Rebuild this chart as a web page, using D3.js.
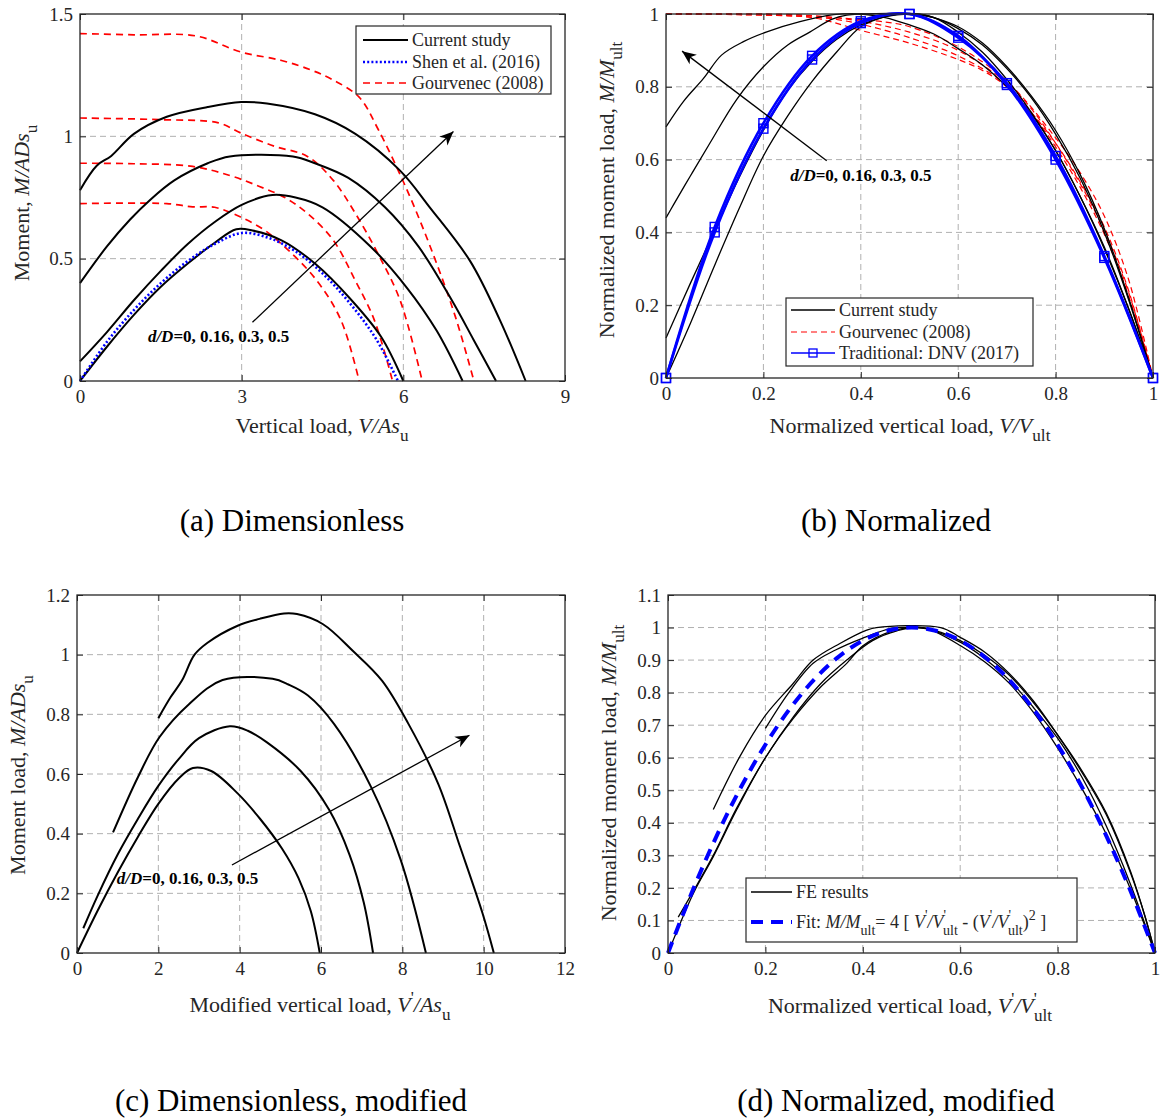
<!DOCTYPE html>
<html>
<head>
<meta charset="utf-8">
<script src="https://cdn.jsdelivr.net/npm/d3@7"></script>
<style>
  body { margin: 0; background: #fff; }
  svg { font-family: "Liberation Serif", "Times New Roman", serif; }
</style>
</head>
<body>
<svg id="fig" width="1162" height="1118"></svg>
<script>
// ---- (a) dimensionless: V/As_u vs M/ADs_u ----
var aTicksX = [0, 3, 6, 9], aLabelsX = ['0', '3', '6', '9'];
var aTicksY = [0, 0.5, 1, 1.5], aLabelsY = ['0', '0.5', '1', '1.5'];
var aCur0 = [[0,0],[0.5,0.14],[1,0.27],[1.5,0.385],[2,0.48],[2.5,0.565],[2.9,0.62],[3.2,0.615],[3.74,0.575],[4.36,0.48],[5.04,0.33],[5.59,0.18],[6.0,0]];
var aCur16 = [[0,0.08],[0.5,0.2],[1,0.33],[1.5,0.45],[2,0.56],[2.5,0.65],[3,0.72],[3.57,0.76],[4,0.75],[4.5,0.71],[5.39,0.55],[6.07,0.38],[6.62,0.205],[7.1,0]];
var aCur30 = [[0,0.4],[0.5,0.55],[0.93,0.66],[1.3,0.74],[1.75,0.82],[2.37,0.89],[2.78,0.918],[3.95,0.918],[4.36,0.89],[4.98,0.83],[5.66,0.71],[6.28,0.55],[6.9,0.33],[7.3,0.17],[7.72,0]];
var aCur50 = [[0,0.78],[0.31,0.88],[0.58,0.92],[1.0,1.01],[1.61,1.08],[2.37,1.12],[2.99,1.14],[3.47,1.134],[4.36,1.09],[5.11,1.01],[5.94,0.86],[6.49,0.71],[7.24,0.49],[7.79,0.25],[8.27,0]];
var aShen = [[0,0],[0.5,0.16],[1,0.29],[1.5,0.4],[2,0.49],[2.5,0.56],[3,0.605],[3.5,0.585],[4,0.53],[4.5,0.44],[5,0.32],[5.5,0.17],[5.9,0]];
var aGour0 = [[0,1.42],[1,1.415],[2.16,1.41],[2.98,1.345],[3.74,1.31],[4.3,1.27],[4.7,1.23],[5.18,1.16],[5.53,1.03],[6.07,0.78],[6.55,0.52],[6.97,0.26],[7.31,0]];
var aGour1 = [[0,1.075],[1.5,1.068],[2.57,1.055],[2.98,1.014],[3.6,0.96],[4.22,0.918],[4.7,0.82],[5.11,0.685],[5.53,0.52],[5.94,0.33],[6.35,0]];
var aGour2 = [[0,0.89],[1,0.888],[2.09,0.877],[2.78,0.84],[3.33,0.795],[3.8,0.75],[4.22,0.685],[4.7,0.575],[5.11,0.41],[5.46,0.25],[5.8,0]];
var aGour3 = [[0,0.725],[1.61,0.725],[2.09,0.712],[2.5,0.71],[2.98,0.67],[3.4,0.62],[3.74,0.56],[4.36,0.42],[4.84,0.25],[5.18,0]];

// ---- (b) normalized: V/V_ult vs M/M_ult ----
var unitTicks = [0, 0.2, 0.4, 0.6, 0.8, 1], unitLabels = ['0', '0.2', '0.4', '0.6', '0.8', '1'];
var bCur0 = [[0,0],[0.05,0.15],[0.1,0.31],[0.15,0.465],[0.2,0.61],[0.25,0.72],[0.3,0.815],[0.35,0.895],[0.4,0.965],[0.45,0.993],[0.48,1.0],[0.52,1.0],[0.55,0.99],[0.6,0.965],[0.65,0.92],[0.7,0.855],[0.75,0.775],[0.8,0.68],[0.85,0.56],[0.9,0.41],[0.95,0.22],[1,0]];
var bCur16 = [[0,0.11],[0.05,0.26],[0.1,0.405],[0.15,0.55],[0.2,0.68],[0.25,0.79],[0.3,0.87],[0.35,0.93],[0.4,0.97],[0.45,0.993],[0.5,1.0],[0.55,0.99],[0.6,0.95],[0.65,0.895],[0.7,0.82],[0.75,0.73],[0.8,0.625],[0.85,0.5],[0.9,0.355],[0.95,0.19],[1,0]];
var bCur30 = [[0,0.44],[0.015,0.475],[0.05,0.555],[0.09,0.645],[0.145,0.765],[0.2,0.855],[0.25,0.915],[0.296,0.951],[0.34,0.985],[0.371,0.997],[0.4,1.0],[0.5,1.0],[0.55,0.99],[0.6,0.96],[0.65,0.915],[0.7,0.85],[0.75,0.77],[0.8,0.67],[0.85,0.55],[0.9,0.4],[0.95,0.215],[1,0]];
var bCur50 = [[0,0.69],[0.036,0.76],[0.077,0.823],[0.114,0.887],[0.159,0.924],[0.207,0.951],[0.275,0.979],[0.344,0.998],[0.4,1.0],[0.45,0.99],[0.5,0.97],[0.55,0.945],[0.6,0.905],[0.65,0.86],[0.7,0.8],[0.75,0.725],[0.8,0.625],[0.85,0.5],[0.9,0.36],[0.95,0.19],[1,0]];
var bGour0 = [[0,1],[0.15,0.998],[0.3,0.99],[0.4,0.955],[0.5,0.92],[0.6,0.875],[0.65,0.845],[0.7,0.8],[0.75,0.73],[0.8,0.645],[0.85,0.54],[0.9,0.415],[0.95,0.24],[1,0]];
var bGour1 = [[0,1],[0.2,0.997],[0.35,0.985],[0.45,0.955],[0.5,0.935],[0.6,0.885],[0.7,0.805],[0.75,0.73],[0.8,0.635],[0.85,0.525],[0.9,0.395],[0.95,0.225],[1,0]];
var bGour2 = [[0,1],[0.3,0.995],[0.4,0.98],[0.5,0.95],[0.6,0.9],[0.7,0.81],[0.75,0.74],[0.8,0.645],[0.85,0.535],[0.9,0.405],[0.95,0.235],[1,0]];
var bGour3 = [[0,1],[0.25,0.999],[0.35,0.99],[0.45,0.978],[0.5,0.965],[0.6,0.91],[0.7,0.815],[0.8,0.66],[0.85,0.565],[0.9,0.445],[0.95,0.27],[1,0]];
var dnvV = [0, 0.1, 0.2, 0.3, 0.4, 0.5, 0.6, 0.7, 0.8, 0.9, 1];
var dnvM1 = [0, 0.40, 0.685, 0.875, 0.975, 1, 0.94, 0.805, 0.60, 0.33, 0];
var dnvM2 = [0, 0.415, 0.70, 0.885, 0.98, 1, 0.935, 0.81, 0.61, 0.335, 0];

// ---- (c) dimensionless, modified: V'/As_u vs M/ADs_u ----
var cTicksX = [0, 2, 4, 6, 8, 10, 12], cLabelsX = ['0', '2', '4', '6', '8', '10', '12'];
var cTicksY = [0, 0.2, 0.4, 0.6, 0.8, 1, 1.2], cLabelsY = ['0', '0.2', '0.4', '0.6', '0.8', '1', '1.2'];
var cCur0 = [[0,0],[0.5,0.14],[1,0.27],[1.5,0.39],[2,0.5],[2.5,0.585],[2.85,0.62],[3.3,0.61],[3.95,0.535],[4.5,0.45],[5.04,0.35],[5.45,0.25],[5.75,0.14],[5.97,0]];
var cCur16 = [[0.155,0.083],[0.5,0.19],[1,0.33],[1.5,0.45],[2,0.56],[2.5,0.65],[3,0.72],[3.76,0.76],[4.2,0.745],[4.68,0.705],[5.5,0.61],[6.2,0.48],[6.7,0.33],[7.05,0.17],[7.28,0]];
var cCur30 = [[0.886,0.404],[1.5,0.59],[2.03,0.724],[2.76,0.835],[3.58,0.915],[4.81,0.919],[5.2,0.9],[5.68,0.863],[6.32,0.768],[7.23,0.557],[7.96,0.312],[8.58,0]];
var cCur50 = [[2.0,0.787],[2.3,0.857],[2.58,0.913],[2.89,1.0],[3.21,1.04],[3.95,1.097],[4.49,1.12],[5.09,1.138],[5.41,1.136],[6.05,1.102],[6.78,1.013],[7.5,0.913],[8.15,0.768],[8.88,0.568],[9.42,0.356],[9.97,0.134],[10.25,0]];

// ---- (d) normalized, modified: V'/V'_ult vs M/M_ult ----
var dTicksY = [0, 0.1, 0.2, 0.3, 0.4, 0.5, 0.6, 0.7, 0.8, 0.9, 1, 1.1];
var dLabelsY = ['0', '0.1', '0.2', '0.3', '0.4', '0.5', '0.6', '0.7', '0.8', '0.9', '1', '1.1'];
var dFE0 = [[0,0],[0.052,0.183],[0.093,0.296],[0.141,0.44],[0.2,0.6],[0.257,0.72],[0.312,0.815],[0.367,0.89],[0.401,0.945],[0.461,0.99],[0.5,1],[0.55,0.99],[0.6,0.96],[0.65,0.915],[0.7,0.855],[0.75,0.77],[0.8,0.67],[0.85,0.56],[0.9,0.43],[0.95,0.25],[0.98,0.11],[1,0]];
var dFE16 = [[0.021,0.11],[0.052,0.19],[0.093,0.3],[0.141,0.445],[0.2,0.6],[0.257,0.725],[0.312,0.825],[0.367,0.9],[0.42,0.96],[0.47,0.99],[0.52,1.0],[0.6,0.955],[0.65,0.905],[0.7,0.84],[0.75,0.755],[0.8,0.66],[0.85,0.54],[0.9,0.39],[0.95,0.21],[1,0]];
var dFE30 = [[0.093,0.441],[0.148,0.605],[0.2,0.73],[0.257,0.828],[0.298,0.9],[0.353,0.951],[0.408,0.992],[0.428,1.0],[0.56,1.0],[0.6,0.97],[0.65,0.925],[0.7,0.86],[0.75,0.775],[0.8,0.67],[0.85,0.555],[0.9,0.425],[0.95,0.245],[0.98,0.11],[1,0]];
var dFE50 = [[0.2,0.69],[0.247,0.798],[0.298,0.89],[0.344,0.931],[0.399,0.967],[0.461,0.998],[0.5,1.0],[0.53,0.998],[0.6,0.945],[0.65,0.895],[0.7,0.83],[0.75,0.74],[0.8,0.63],[0.85,0.505],[0.9,0.365],[0.95,0.195],[1,0]];
var fitV = [0, 0.05, 0.1, 0.15, 0.2, 0.25, 0.3, 0.35, 0.4, 0.45, 0.5, 0.55, 0.6, 0.65, 0.7, 0.75, 0.8, 0.85, 0.9, 0.95, 1];
var fitM = [0, 0.19, 0.36, 0.51, 0.64, 0.75, 0.84, 0.91, 0.96, 0.99, 1, 0.99, 0.96, 0.91, 0.84, 0.75, 0.64, 0.51, 0.36, 0.19, 0];

var ddLabel = [{t: 'd/D', i: 1, b: 1}, {t: '=0, 0.16, 0.3, 0.5', b: 1}];

var INK = '#262626';
var svg = d3.select('#fig');
svg.append('rect').attr('width', 1162).attr('height', 1118).attr('fill', '#fff');

svg.append('defs').append('marker')
    .attr('id', 'head')
    .attr('viewBox', '-15 -8 17 16')
    .attr('markerWidth', 17).attr('markerHeight', 16)
    .attr('markerUnits', 'userSpaceOnUse')
    .attr('refX', 0).attr('refY', 0)
    .attr('orient', 'auto')
    .append('path')
    .attr('d', 'M0,0 L-14,-6 L-10,0 L-14,6 Z')
    .attr('fill', '#000');

// text with italic / sub / superscript pieces
function rich(parent, x, y, parts, size, anchor, rotate) {
    var t = parent.append('text')
        .attr('x', x).attr('y', y)
        .attr('font-size', size)
        .attr('text-anchor', anchor || 'start')
        .attr('fill', INK);
    if (rotate) t.attr('transform', 'rotate(-90,' + x + ',' + y + ')');
    var cur = 0;
    parts.forEach(function(p) {
        var s = t.append('tspan').text(p.t);
        var shift = 0;
        if (p.sub) shift = size * 0.38;
        if (p.sup) shift = -size * 0.42;
        s.attr('dy', shift - cur);
        cur = shift;
        if (p.sub || p.sup) s.attr('font-size', size * 0.78);
        if (p.i) s.attr('font-style', 'italic');
        if (p.b) s.attr('font-weight', 'bold');
        if (p.dx) s.attr('dx', p.dx);
    });
    return t;
}

function panel(o) {
    var g = svg.append('g').attr('transform', 'translate(' + o.left + ',' + o.top + ')');
    var x = d3.scaleLinear().domain(o.xDomain).range([0, o.width]);
    var y = d3.scaleLinear().domain(o.yDomain).range([o.height, 0]);

    var grid = g.append('g').attr('stroke', '#b0b0b0').attr('stroke-dasharray', '6,4').attr('stroke-width', 1);
    o.xTicks.slice(1, -1).forEach(function(t) {
        grid.append('line').attr('x1', x(t)).attr('x2', x(t)).attr('y1', 0).attr('y2', o.height);
    });
    o.yTicks.slice(1, -1).forEach(function(t) {
        grid.append('line').attr('x1', 0).attr('x2', o.width).attr('y1', y(t)).attr('y2', y(t));
    });

    var curves = g.append('g');

    var axes = g.append('g');
    function styleAxis(a) {
        a.attr('font-family', null).attr('font-size', 19);
        a.select('.domain').remove();
        a.selectAll('.tick line').attr('stroke', INK);
        a.selectAll('.tick text').attr('fill', INK);
    }
    axes.append('g').attr('transform', 'translate(0,' + o.height + ')')
        .call(d3.axisBottom(x).tickValues(o.xTicks).tickFormat(function(d, i) { return o.xLabels[i]; }).tickSize(-6).tickPadding(9))
        .call(styleAxis);
    axes.append('g')
        .call(d3.axisTop(x).tickValues(o.xTicks).tickFormat('').tickSize(-6))
        .call(styleAxis);
    axes.append('g')
        .call(d3.axisLeft(y).tickValues(o.yTicks).tickFormat(function(d, i) { return o.yLabels[i]; }).tickSize(-6).tickPadding(7))
        .call(styleAxis);
    axes.append('g').attr('transform', 'translate(' + o.width + ',0)')
        .call(d3.axisRight(y).tickValues(o.yTicks).tickFormat('').tickSize(-6))
        .call(styleAxis);
    axes.append('rect').attr('width', o.width).attr('height', o.height)
        .attr('fill', 'none').attr('stroke', INK).attr('stroke-width', 1.3);

    var line = d3.line()
        .x(function(d) { return x(d[0]); })
        .y(function(d) { return y(d[1]); })
        .curve(d3.curveCatmullRom.alpha(0.5));

    return {g: g, x: x, y: y, curves: curves, line: line};
}

function drawCurve(p, data, color, width, dash) {
    var path = p.curves.append('path')
        .datum(data)
        .attr('d', p.line)
        .attr('fill', 'none')
        .attr('stroke', color)
        .attr('stroke-width', width)
        .attr('stroke-linejoin', 'round');
    if (dash) path.attr('stroke-dasharray', dash);
    return path;
}

function arrow(p, from, to) {
    p.g.append('line')
        .attr('x1', p.x(from[0])).attr('y1', p.y(from[1]))
        .attr('x2', p.x(to[0])).attr('y2', p.y(to[1]))
        .attr('stroke', '#000').attr('stroke-width', 1.3)
        .attr('marker-end', 'url(#head)');
}

function legend(p, x, y, w, h, rows) {
    var lg = p.g.append('g').attr('transform', 'translate(' + x + ',' + y + ')');
    lg.append('rect').attr('width', w).attr('height', h)
        .attr('fill', '#fff').attr('stroke', INK).attr('stroke-width', 1.2);
    rows.forEach(function(r) {
        var ln = lg.append('line').attr('x1', r.x1).attr('x2', r.x2).attr('y1', r.y).attr('y2', r.y)
            .attr('stroke', r.color).attr('stroke-width', r.width);
        if (r.dash) ln.attr('stroke-dasharray', r.dash);
        if (r.square) {
            lg.append('rect').attr('x', (r.x1 + r.x2) / 2 - 4).attr('y', r.y - 4)
                .attr('width', 8).attr('height', 8)
                .attr('fill', 'none').attr('stroke', r.color).attr('stroke-width', 1.3);
        }
        rich(lg, r.tx, r.y + 6, r.parts, 18);
    });
}

function caption(cx, cy, text) {
    svg.append('text').attr('x', cx).attr('y', cy)
        .attr('text-anchor', 'middle').attr('font-size', 31).attr('fill', '#000')
        .text(text);
}

// ===== (a) =====
var pa = panel({left: 80, top: 14, width: 485, height: 367, xDomain: [0, 9], yDomain: [0, 1.5],
    xTicks: aTicksX, xLabels: aLabelsX, yTicks: aTicksY, yLabels: aLabelsY});
[aGour0, aGour1, aGour2, aGour3].forEach(function(d) { drawCurve(pa, d, '#ff0000', 1.7, '7,5'); });
[aCur0, aCur16, aCur30, aCur50].forEach(function(d) { drawCurve(pa, d, '#000', 2); });
drawCurve(pa, aShen, '#0000ff', 2.6, '2,2.2');
arrow(pa, [3.2, 0.24], [6.93, 1.02]);
rich(pa.g, pa.x(1.26), pa.y(0.16), ddLabel, 17).attr('fill', '#000');
legend(pa, 276, 12, 195, 68, [
    {x1: 7, x2: 52, y: 14, color: '#000', width: 2, tx: 56, parts: [{t: 'Current study'}]},
    {x1: 7, x2: 52, y: 36, color: '#0000ff', width: 2.6, dash: '2,2.2', tx: 56, parts: [{t: 'Shen et al. (2016)'}]},
    {x1: 7, x2: 52, y: 57, color: '#ff0000', width: 1.7, dash: '7,5', tx: 56, parts: [{t: 'Gourvenec (2008)'}]}
]);
rich(svg, 322, 433, [{t: 'Vertical load,  '}, {t: 'V/As', i: 1}, {t: 'u', sub: 1}], 22, 'middle');
rich(svg, 29, 203, [{t: 'Moment, '}, {t: 'M/ADs', i: 1}, {t: 'u', sub: 1}], 22, 'middle', true);
caption(292, 531, '(a) Dimensionless');

// ===== (b) =====
var pb = panel({left: 666, top: 14, width: 487, height: 364, xDomain: [0, 1], yDomain: [0, 1],
    xTicks: unitTicks, xLabels: unitLabels, yTicks: unitTicks, yLabels: unitLabels});
[bGour0, bGour1, bGour2, bGour3].forEach(function(d) { drawCurve(pb, d, '#ff0000', 1.2, '6,4'); });
[bCur0, bCur16, bCur30, bCur50].forEach(function(d) { drawCurve(pb, d, '#000', 1.3); });
[dnvM1, dnvM2].forEach(function(m) {
    var pts = dnvV.map(function(v, i) { return [v, m[i]]; });
    drawCurve(pb, pts, '#0000ff', 2.6);
    pb.curves.selectAll(null).data(pts).enter().append('rect')
        .attr('x', function(d) { return pb.x(d[0]) - 4.5; })
        .attr('y', function(d) { return pb.y(d[1]) - 4.5; })
        .attr('width', 9).attr('height', 9)
        .attr('fill', 'none').attr('stroke', '#0000ff').attr('stroke-width', 1.4);
});
arrow(pb, [0.33, 0.597], [0.033, 0.898]);
rich(pb.g, pb.x(0.255), pb.y(0.54), ddLabel, 17).attr('fill', '#000');
legend(pb, 120, 284, 247, 68, [
    {x1: 5, x2: 49, y: 12, color: '#000', width: 1.3, tx: 53, parts: [{t: 'Current study'}]},
    {x1: 5, x2: 49, y: 34, color: '#ff0000', width: 1.2, dash: '6,4', tx: 53, parts: [{t: 'Gourvenec (2008)'}]},
    {x1: 5, x2: 49, y: 55, color: '#0000ff', width: 1.6, square: true, tx: 53, parts: [{t: 'Traditional: DNV (2017)'}]}
]);
rich(svg, 910, 433, [{t: 'Normalized vertical load, '}, {t: 'V/V', i: 1}, {t: 'ult', sub: 1}], 22, 'middle');
rich(svg, 614, 190, [{t: 'Normalized moment load, '}, {t: 'M/M', i: 1}, {t: 'ult', sub: 1}], 22, 'middle', true);
caption(896, 531, '(b) Normalized');

// ===== (c) =====
var pc = panel({left: 77, top: 595, width: 488, height: 358, xDomain: [0, 12], yDomain: [0, 1.2],
    xTicks: cTicksX, xLabels: cLabelsX, yTicks: cTicksY, yLabels: cLabelsY});
[cCur0, cCur16, cCur30, cCur50].forEach(function(d) { drawCurve(pc, d, '#000', 2); });
arrow(pc, [3.81, 0.295], [9.65, 0.73]);
rich(pc.g, pc.x(0.98), pc.y(0.23), ddLabel, 17).attr('fill', '#000');
rich(svg, 320, 1012, [{t: 'Modified vertical load, '}, {t: 'V', i: 1}, {t: "'", sup: 1}, {t: '/As', i: 1}, {t: 'u', sub: 1}], 22, 'middle');
rich(svg, 25, 775, [{t: 'Moment load, '}, {t: 'M/ADs', i: 1}, {t: 'u', sub: 1}], 22, 'middle', true);
caption(291, 1111, '(c) Dimensionless, modified');

// ===== (d) =====
var pd = panel({left: 668, top: 595, width: 487, height: 358, xDomain: [0, 1], yDomain: [0, 1.1],
    xTicks: unitTicks, xLabels: unitLabels, yTicks: dTicksY, yLabels: dLabelsY});
[dFE0, dFE16, dFE30, dFE50].forEach(function(d) { drawCurve(pd, d, '#000', 1.3); });
drawCurve(pd, fitV.map(function(v, i) { return [v, fitM[i]]; }), '#0000ff', 4, '12,8');
legend(pd, 78, 283, 331, 64, [
    {x1: 5, x2: 46, y: 14, color: '#000', width: 1.3, tx: 50, parts: [{t: 'FE results'}]},
    {x1: 5, x2: 46, y: 44, color: '#0000ff', width: 4, dash: '12,8', tx: 50, parts: [
        {t: 'Fit: '}, {t: 'M/M', i: 1}, {t: 'ult', sub: 1}, {t: '= 4 [ '},
        {t: 'V', i: 1}, {t: "'", sup: 1}, {t: '/V', i: 1}, {t: "'", sup: 1}, {t: 'ult', sub: 1, dx: -3},
        {t: ' - ('}, {t: 'V', i: 1}, {t: "'", sup: 1}, {t: '/V', i: 1}, {t: "'", sup: 1}, {t: 'ult', sub: 1, dx: -3},
        {t: ')'}, {t: '2', sup: 1}, {t: ' ]'}
    ]}
]);
rich(svg, 910, 1013, [{t: 'Normalized vertical load, '}, {t: 'V', i: 1}, {t: "'", sup: 1}, {t: '/V', i: 1}, {t: "'", sup: 1}, {t: 'ult', sub: 1, dx: -3}], 22, 'middle');
rich(svg, 616, 773, [{t: 'Normalized moment load, '}, {t: 'M/M', i: 1}, {t: 'ult', sub: 1}], 22, 'middle', true);
caption(896, 1111, '(d) Normalized, modified');
</script>
</body>
</html>
